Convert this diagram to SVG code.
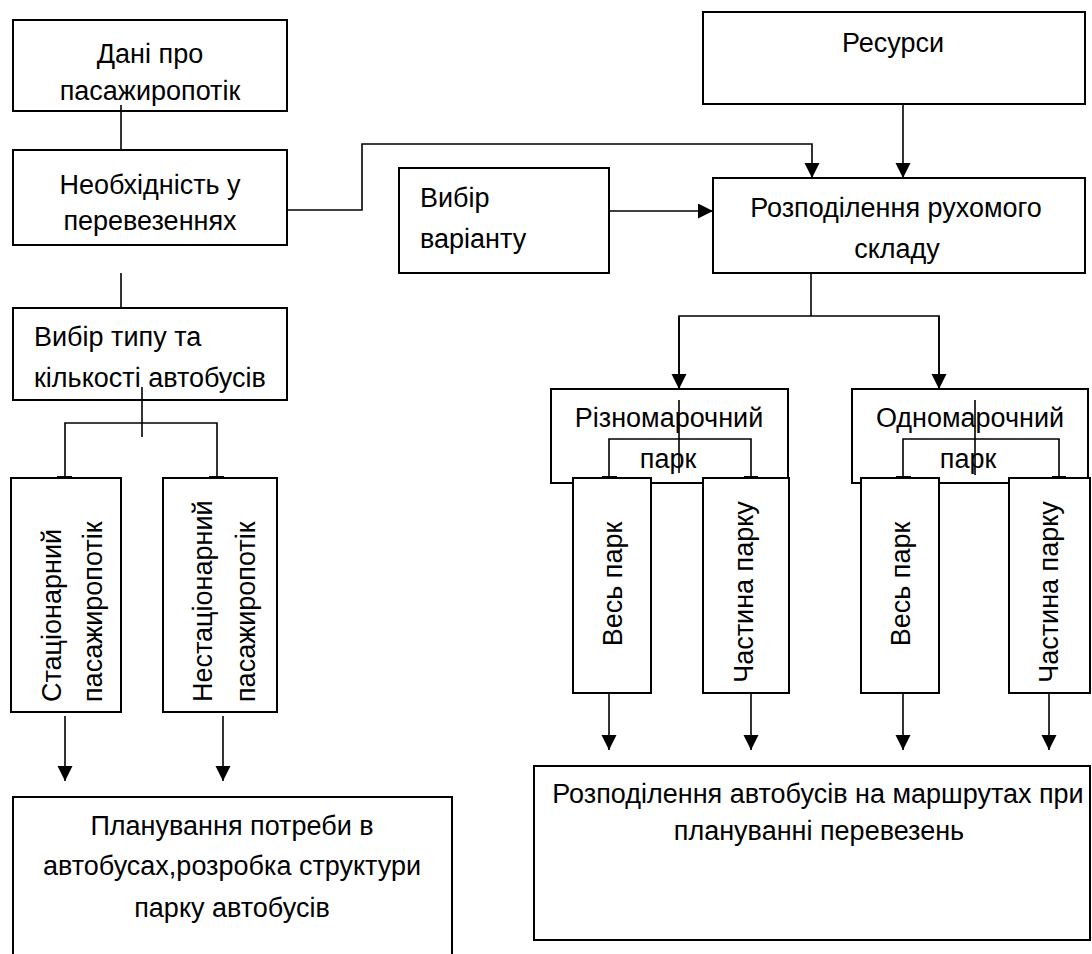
<svg xmlns="http://www.w3.org/2000/svg" width="1092" height="954" viewBox="0 0 1092 954">
<style>
.box{fill:#fff;stroke:#000;stroke-width:2}
.ln{fill:none;stroke:#000;stroke-width:1.6}
.t{font-family:"Liberation Sans",Arial,sans-serif;font-size:27px;fill:#000}
.c{text-anchor:middle}
</style>
<defs>
<marker id="ah" markerUnits="userSpaceOnUse" markerWidth="16" markerHeight="16" refX="15" refY="7.5" orient="auto">
<path d="M0,0 L15,7.5 L0,15 z" fill="#000"/>
</marker>
</defs>
<rect width="1092" height="954" fill="#fff"/>

<g id="connectors">
<path class="ln" d="M121,105 V150"/>
<path class="ln" d="M287,210 H362 V144 H812 V178" marker-end="url(#ah)"/>
<path class="ln" d="M903,104 V178" marker-end="url(#ah)"/>
<path class="ln" d="M609,211 H713" marker-end="url(#ah)"/>
<path class="ln" d="M121,273 V308"/>
<path class="ln" d="M142,387 V437"/>
<path class="ln" d="M65,477 V423 H217 V477"/>
<path class="ln" d="M57,477 H72 M209,477 H224" style="stroke-width:2"/>
<path class="ln" d="M65,716 V781" marker-end="url(#ah)"/>
<path class="ln" d="M223,716 V781" marker-end="url(#ah)"/>
<path class="ln" d="M811,273 V316"/>
<path class="ln" d="M679,389 V316 H939 V389" />
<path class="ln" d="M679,316 V389" marker-end="url(#ah)"/>
<path class="ln" d="M939,316 V389" marker-end="url(#ah)"/>
<path class="ln" d="M609,693 V750" marker-end="url(#ah)"/>
<path class="ln" d="M751,693 V750" marker-end="url(#ah)"/>
<path class="ln" d="M903,693 V750" marker-end="url(#ah)"/>
<path class="ln" d="M1049,693 V750" marker-end="url(#ah)"/>
</g>

<g id="n-dani">
<rect class="box" x="13" y="20" width="274" height="91"/>
<text class="t c" x="150" y="63">Дані про</text>
<text class="t c" x="150" y="100">пасажиропотік</text>
</g>
<path class="ln" d="M121,105 V111"/>

<g id="n-neobkhidnist">
<rect class="box" x="13" y="150" width="274" height="95"/>
<text class="t c" x="150" y="194">Необхідність у</text>
<text class="t c" x="150" y="230">перевезеннях</text>
</g>

<g id="n-vybir-typu">
<rect class="box" x="13" y="308" width="274" height="92"/>
<text class="t" x="34" y="346">Вибір типу та</text>
<text class="t" x="34" y="387">кількості автобусів</text>
</g>
<path class="ln" d="M142,387 V400"/>

<g id="n-stats">
<rect class="box" x="11" y="478" width="110" height="234"/>
<text class="t" transform="translate(61,702) rotate(-90)">Стаціонарний</text>
<text class="t" transform="translate(102,702) rotate(-90)">пасажиропотік</text>
</g>

<g id="n-nestats">
<rect class="box" x="163" y="478" width="114" height="234"/>
<text class="t" transform="translate(212,702) rotate(-90)">Нестаціонарний</text>
<text class="t" transform="translate(255,702) rotate(-90)">пасажиропотік</text>
</g>

<g id="n-planuvannia">
<rect class="box" x="13" y="797" width="439" height="170"/>
<text class="t c" x="232" y="835">Планування потреби в</text>
<text class="t c" x="232" y="875">автобусах,розробка структури</text>
<text class="t c" x="232" y="917">парку автобусів</text>
</g>

<g id="n-resursy">
<rect class="box" x="703" y="12" width="382" height="92"/>
<text class="t c" x="893" y="52">Ресурси</text>
</g>

<g id="n-vybir-variantu">
<rect class="box" x="399" y="168" width="210" height="105"/>
<text class="t" x="420" y="207">Вибір</text>
<text class="t" x="420" y="248">варіанту</text>
</g>

<g id="n-rozpodilennia">
<rect class="box" x="713" y="178" width="372" height="95"/>
<text class="t c" x="896" y="217">Розподілення рухомого</text>
<text class="t c" x="897" y="258">складу</text>
</g>

<g id="n-riznomarochnyi">
<rect class="box" x="551" y="389" width="237" height="94"/>
<text class="t c" x="669" y="427">Різномарочний</text>
<text class="t c" x="668" y="468">парк</text>
<path class="ln" d="M679,400 V473 M609,477 V439 H751 V477"/>
<path class="ln" d="M602,477 H617 M744,477 H758" style="stroke-width:2"/>
</g>

<g id="n-odnomarochnyi">
<rect class="box" x="852" y="389" width="236" height="94"/>
<text class="t c" x="970" y="427">Одномарочний</text>
<text class="t c" x="968" y="468">парк</text>
<path class="ln" d="M975,400 V475 M903,477 V439 H1059 V477"/>
<path class="ln" d="M896,477 H911 M1052,477 H1066" style="stroke-width:2"/>
</g>

<g id="n-ves-park-1">
<rect class="box" x="573" y="478" width="78" height="215"/>
<text class="t c" transform="translate(622,584) rotate(-90)">Весь парк</text>
</g>

<g id="n-chastyna-1">
<rect class="box" x="703" y="478" width="86" height="215"/>
<text class="t c" transform="translate(753,592) rotate(-90)">Частина парку</text>
</g>

<g id="n-ves-park-2">
<rect class="box" x="861" y="478" width="78" height="215"/>
<text class="t c" transform="translate(910,584) rotate(-90)">Весь парк</text>
</g>

<g id="n-chastyna-2">
<rect class="box" x="1009" y="478" width="81" height="215"/>
<text class="t c" transform="translate(1058,592) rotate(-90)">Частина парку</text>
</g>

<g id="n-rozpodilennia-avtobusiv">
<rect class="box" x="534" y="766" width="556" height="174"/>
<text class="t c" x="818" y="803">Розподілення автобусів на маршрутах при</text>
<text class="t c" x="819" y="840">плануванні перевезень</text>
</g>
</svg>
